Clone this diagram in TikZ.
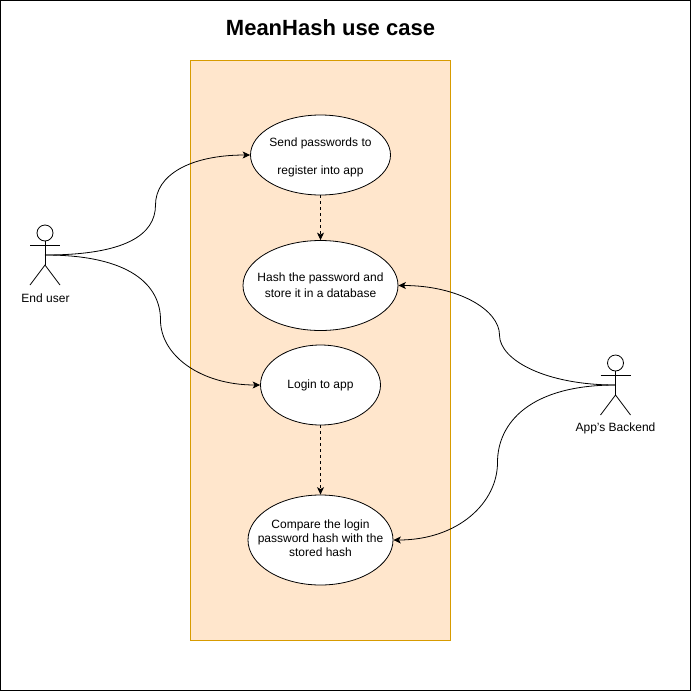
\documentclass[tikz,border=0pt]{standalone}
\usepackage{fontspec}
\setmainfont{Liberation Sans}
\usetikzlibrary{arrows.meta,shapes.geometric}
\tikzset{
  usecase/.style={draw, fill=white, ellipse, inner xsep=-25pt, inner ysep=0pt, line width=.8pt, align=center, font=\fontsize{12}{14}\selectfont},
  actorname/.style={font=\fontsize{12}{14}\selectfont},
  flow/.style={draw, line width=.8pt, -{Stealth[length=7.5pt,width=7pt,inset=2pt]}},
  flowdash/.style={flow, dash pattern=on 3pt off 3pt},
  stick/.style={line width=.8pt},
}
\definecolor{boxfill}{HTML}{FFE6CC}
\definecolor{boxline}{HTML}{D79B00}
\begin{document}
\begin{tikzpicture}[x=1pt, y=-1pt]
    \useasboundingbox (0,0) rectangle (691,691);
    \draw[line width=1pt] (.5,.5) rectangle (690.5,690.5);
    \node[font=\fontsize{22}{26}\selectfont\bfseries] (title) at (330.5,28) {MeanHash use case};
    \filldraw[fill=boxfill, draw=boxline, line width=1pt] (190.5,60.5) rectangle (450.5,640.5);

    \node[usecase, minimum width=140pt, minimum height=80pt] (send) at (320.5,155) {\rule{0pt}{14pt}Send passwords to\\[14pt]register into app};
    \node[usecase, minimum width=155pt, minimum height=90pt] (hash) at (320.5,285.5) {Hash the password and\\[2pt]store it in a database};
    \node[usecase, minimum width=120pt, minimum height=80pt] (login) at (320.5,385) {Login to app};
    \node[usecase, minimum width=145pt, minimum height=90pt] (compare) at (320.5,540) {Compare the login\\password hash with the\\\rule[-3pt]{0pt}{3pt}stored hash};

    \begin{scope}[shift={(45,255)}]
      \coordinate (enduser) at (0,0);
      \draw[stick] (0,-22) circle (8);
      \draw[stick] (0,-14) -- (0,10);
      \draw[stick] (-15,-10) -- (15,-10);
      \draw[stick] (-15,30) -- (0,10) -- (15,30);
      \node[actorname] (endusername) at (.5,43.5) {End user};
    \end{scope}
    \begin{scope}[shift={(615.5,385)}]
      \coordinate (backend) at (0,0);
      \draw[stick] (0,-22) circle (8);
      \draw[stick] (0,-14) -- (0,10);
      \draw[stick] (-15,-10) -- (15,-10);
      \draw[stick] (-15,30) -- (0,10) -- (15,30);
      \node[actorname] (backendname) at (0,43.5) {App's Backend};
    \end{scope}

    \coordinate (bendsend) at (155.5,205);
    \coordinate (bendlogin) at (160.5,320);
    \coordinate (bendhash) at (499.5,335);
    \coordinate (bendcompare) at (497.5,462.5);

    \draw[flow] (enduser) .. controls +(80,0) and +(0,30) .. (bendsend) .. controls +(0,-30) and +(-60,0) .. (send.west);
    \draw[flow] (enduser) .. controls +(85,0) and +(0,-35) .. (bendlogin) .. controls +(0,35) and +(-60,0) .. (login.west);
    \draw[flow] (backend) .. controls +(-70,0) and +(0,25) .. (bendhash) .. controls +(0,-25) and +(60,0) .. (hash.east);
    \draw[flow] (backend) .. controls +(-85,0) and +(0,-40) .. (bendcompare) .. controls +(0,40) and +(65,0) .. (compare.east);

    \draw[flowdash] (send) -- (hash);
    \draw[flowdash] (login) -- (compare);
\end{tikzpicture}
\end{document}
